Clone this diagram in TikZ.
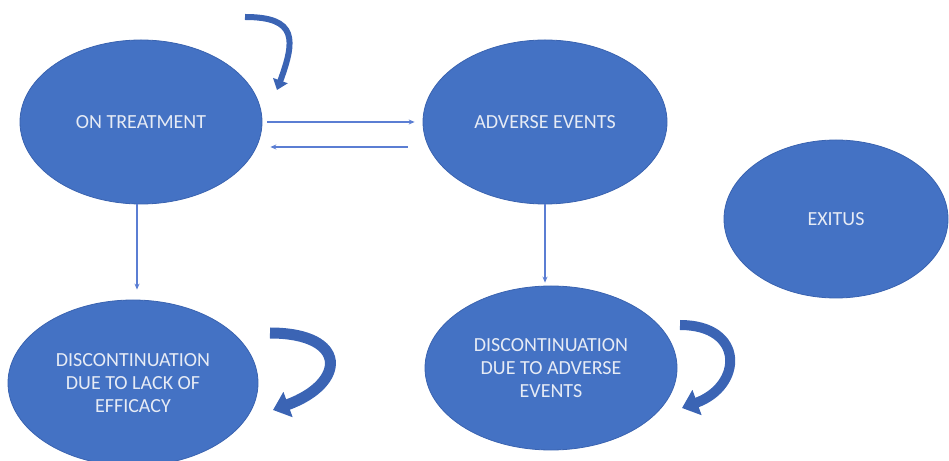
\documentclass[tikz,border=0pt]{standalone}
\usepackage{fontspec}
\setmainfont{Carlito}
\usepackage{tikz}
\usetikzlibrary{shapes,arrows.meta,positioning}
\definecolor{stateblue}{HTML}{4472C4}
\definecolor{stateline}{HTML}{3A63B0}
\definecolor{arrowblue}{HTML}{5B7ED3}
\definecolor{loopblue}{HTML}{3B64B4}
\definecolor{labelwhite}{HTML}{E6EBF5}

\begin{document}
\begin{tikzpicture}[x=1pt,y=1pt,node distance=404pt,
	state/.style={ellipse, fill=stateblue, draw=stateline, line width=0.8pt, inner sep=0pt,
		text=labelwhite, align=center, font=\fontsize{20}{23}\selectfont},
	thinarr/.style={-{Stealth[length=6pt,width=5pt]}, draw=arrowblue, line width=1.3pt},
	bigloop/.style={-{Triangle[length=16pt,width=26pt]}, draw=loopblue, line width=11pt}]
	\useasboundingbox (0,0) rectangle (949,460);
	\node (T) [state, minimum width=242pt, minimum height=164pt] at (141,338) {ON TREATMENT};
	\node (A) [state, right of=T, minimum width=244pt, minimum height=164pt] {ADVERSE EVENTS};
	\node (L) [state, below of=T, node distance=261pt, xshift=-8pt, minimum width=250pt, minimum height=166pt]
		{DISCONTINUATION\\DUE TO LACK OF\\EFFICACY};
	\node (D) [state, below of=A, node distance=246pt, xshift=6pt, minimum width=252pt, minimum height=164pt]
		{DISCONTINUATION\\DUE TO ADVERSE\\EVENTS};
	\node (X) [state, right of=A, node distance=291pt, yshift=-97pt, minimum width=224pt, minimum height=158pt] {EXITUS};

	% loop ends
	\coordinate (Ttail) at ([shift={(104pt,105pt)}]T.center);
	\coordinate (Ttip) at ([shift={(136pt,32pt)}]T.center);
	\coordinate (Ltail) at ([shift={(137pt,50pt)}]L.center);
	\coordinate (Ltip) at ([shift={(140pt,-27pt)}]L.center);
	\coordinate (Dtail) at ([shift={(129pt,43pt)}]D.center);
	\coordinate (Dtip) at ([shift={(131pt,-40pt)}]D.center);

	\draw[thinarr, shorten <=5pt, shorten >=8pt] (T) -- (A);
	\draw[thinarr, shorten <=15pt, shorten >=8pt] ([yshift=-25pt]A.west) -- ([yshift=-25pt]T.east);
	\draw[thinarr, shorten >=10pt] ([xshift=-4pt]T.south) -- ([xshift=4pt]L.north);
	\draw[thinarr, shorten >=3pt] (A.south) -- (A.south |- D.north);

	\draw[bigloop, line width=6pt, -{Triangle[length=10pt,width=15pt]}] (Ttail) to[out=0,in=70,looseness=1.7] (Ttip);
	\draw[bigloop] (Ltail) to[out=0,in=20,looseness=2.6] (Ltip);
	\draw[bigloop, line width=10pt] (Dtail) to[out=0,in=20,looseness=2] (Dtip);
\end{tikzpicture}
\end{document}
